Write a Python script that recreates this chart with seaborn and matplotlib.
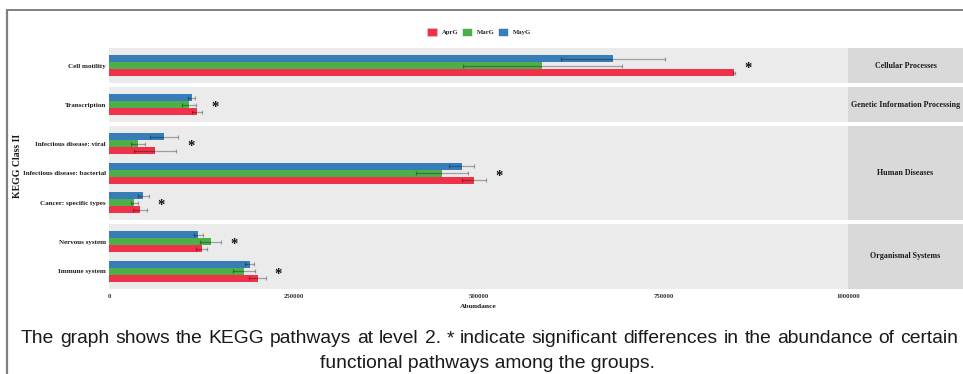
import numpy as np
import pandas as pd
import matplotlib
matplotlib.use("Agg")
import matplotlib.pyplot as plt
from matplotlib.patches import Patch
from matplotlib.lines import Line2D
import seaborn as sns

# KEGG level-1 classes and their level-2 pathways
classes = ["Cellular Processes", "Genetic Information Processing",
           "Human Diseases", "Organismal Systems"]
pathways = [["Cell motility"],
            ["Transcription"],
            ["Infectious disease: viral", "Infectious disease: bacterial", "Cancer: specific types"],
            ["Nervous system", "Immune system"]]
groups = ["AprG", "MarG", "MayG"]

# mean abundance and standard deviation per pathway (same order as above)
apr_mean = [846000, 119000, 62000, 494000, 41500, 125500, 201000]
apr_sd = [1500, 7200, 28000, 16500, 9600, 7400, 11000]
mar_mean = [586500, 108000, 39500, 450500, 34500, 137500, 182500]
mar_sd = [108000, 9300, 9400, 35000, 4300, 14400, 14700]
may_mean = [682000, 112000, 74500, 477500, 46500, 121000, 190500]
may_sd = [70500, 4500, 19400, 17000, 7000, 5900, 5900]
significant = [True, True, True, True, True, True, True]

x_ticks = [0, 250000, 500000, 750000, 1000000]

caption_1 = ("The graph shows the KEGG pathways at level 2. * indicate significant "
             "differences in the abundance of certain")
caption_2 = "functional pathways among the groups."

palette = {"AprG": "#EF3249", "MarG": "#4DAF4A", "MayG": "#377EB8"}

flat_paths = [p for grp in pathways for p in grp]
path_class = {p: c for c, grp in zip(classes, pathways) for p in grp}
rows = []
for g, means, sds in zip(groups, [apr_mean, mar_mean, may_mean], [apr_sd, mar_sd, may_sd]):
    for p, m, s in zip(flat_paths, means, sds):
        rows.append({"pathway": p, "group": g, "abundance": m, "sd": s, "class": path_class[p]})
df = pd.DataFrame(rows)

sns.set_style("white")
plt.rcParams["font.family"] = ["Liberation Serif", "DejaVu Serif"]
plt.rcParams["font.weight"] = "bold"

W, H = 963, 374
fig = plt.figure(figsize=(W / 100, H / 100), dpi=100)

def frac(x0, y0, w, h):
    return [x0 / W, 1 - (y0 + h) / H, w / W, h / H]

panel_left, panel_right, strip_right = 109, 848, 963
top, bottom, gap = 48, 289, 3.5
units = [len(p) + 0.2 for p in pathways]
unit_px = (bottom - top - gap * (len(units) - 1)) / sum(units)

hue_order = ["MayG", "MarG", "AprG"]
y0 = top
for i, cls in enumerate(classes):
    h = units[i] * unit_px
    ax = fig.add_axes(frac(panel_left, y0, panel_right - panel_left, h))
    sax = fig.add_axes(frac(panel_right, y0, strip_right - panel_right, h))
    y0 += h + gap
    sub = df[df["class"] == cls]
    order = pathways[i]
    sns.barplot(data=sub, y="pathway", x="abundance", hue="group",
                hue_order=hue_order, order=order, palette=palette,
                errorbar=None, width=0.72, orient="h", saturation=1,
                legend=False, linewidth=0, edgecolor="none", ax=ax)
    # error bars at the centre of each bar
    for patch in list(ax.patches):
        if patch.get_height() == 0:
            continue
        yc = patch.get_y() + patch.get_height() / 2
        idx = int(round(yc))
        off = yc - idx
        g = hue_order[int(round(off / patch.get_height())) + 1]
        r = sub[(sub["pathway"] == order[idx]) & (sub["group"] == g)].iloc[0]
        ax.errorbar(r["abundance"], yc, xerr=r["sd"], fmt="none",
                    ecolor=(0, 0, 0, 0.32), elinewidth=0.9,
                    capsize=1.3, capthick=0.9)
    # significance marks
    for idx, p in enumerate(order):
        if not significant[flat_paths.index(p)]:
            continue
        r = sub[sub["pathway"] == p]
        xs = (r["abundance"] + r["sd"]).max() + 17000
        ax.annotate("*", xy=(xs, idx), xytext=(0, -4.8), textcoords="offset points",
                    ha="center", va="baseline", fontsize=10.5, fontweight="bold",
                    color="#111111")
    ax.set_xlim(0, 1000000)
    ax.set_ylim(len(order) - 0.4, -0.6)
    ax.set_facecolor("#EBEBEB")
    for s in ax.spines.values():
        s.set_visible(False)
    ax.set_xlabel("")
    ax.set_ylabel("")
    ax.tick_params(axis="y", length=0, pad=2.2, labelsize=5.0, labelcolor="#1a1a1a")
    for t in ax.get_yticklabels():
        t.set_fontweight("bold")
    if i == len(classes) - 1:
        ax.set_xticks(x_ticks)
        ax.set_xticklabels([str(v) for v in x_ticks], fontsize=4.9, fontweight="bold",
                           color="#333333")
        ax.tick_params(axis="x", length=1.8, width=0.5, color="#555555", pad=1.5)
    else:
        ax.set_xticks([])
    sax.set_facecolor("#D9D9D9")
    sax.set_xticks([])
    sax.set_yticks([])
    for s in sax.spines.values():
        s.set_visible(False)
    sax.text(0.5, 0.5, cls, ha="center", va="center", fontsize=5.8,
             fontweight="bold", color="#1a1a1a", transform=sax.transAxes)

fig.text((panel_left + panel_right) / 2 / W, 1 - 306 / H, "Abundance",
         ha="center", va="center", fontsize=5.4, fontweight="bold", color="#1a1a1a")
fig.text(18 / W, 1 - 166 / H, "KEGG Class II", rotation=90, ha="center",
         va="center", fontsize=7, fontweight="bold", color="#1a1a1a")

handles = [Patch(facecolor=palette[g], edgecolor="#f7c9cf" if g == "AprG" else "white",
                 linewidth=0.4, label=g) for g in groups]
fig.legend(handles=handles, loc="center", bbox_to_anchor=(479 / W, 1 - 32 / H),
           ncol=3, frameon=False, handlelength=1.5, handleheight=1.5,
           handletextpad=0.7, columnspacing=0.6, borderpad=0,
           prop={"weight": "bold", "size": 4.8})

# caption: first line justified between the margins, second line centred
cap_font = ["Liberation Sans", "DejaVu Sans"]
cap_size = 13.9
renderer = fig.canvas.get_renderer()
words = caption_1.split(" ")
word_texts = [fig.text(0, 1 - 343 / H, w, ha="left", va="baseline", fontsize=cap_size,
                       family=cap_font, fontweight="normal", color="#1a1a1a")
              for w in words]
widths = [t.get_window_extent(renderer).width for t in word_texts]
x_start, x_end = 21, 958
space = (x_end - x_start - sum(widths)) / (len(words) - 1)
x = x_start
for t, w in zip(word_texts, widths):
    t.set_x(x / W)
    x += w + space
fig.text(487.5 / W, 1 - 368 / H, caption_2, ha="center", va="baseline", fontsize=cap_size,
         family=cap_font, fontweight="normal", color="#1a1a1a")

# outer frame (left and top edges)
fig.add_artist(Line2D([6.5 / W, 6.5 / W], [0, 1 - 10 / H], transform=fig.transFigure,
                      color="#808080", linewidth=1.6))
fig.add_artist(Line2D([6.5 / W, 1], [1 - 10 / H, 1 - 10 / H], transform=fig.transFigure,
                      color="#808080", linewidth=1.4))

fig.savefig("out.png", dpi=100)
